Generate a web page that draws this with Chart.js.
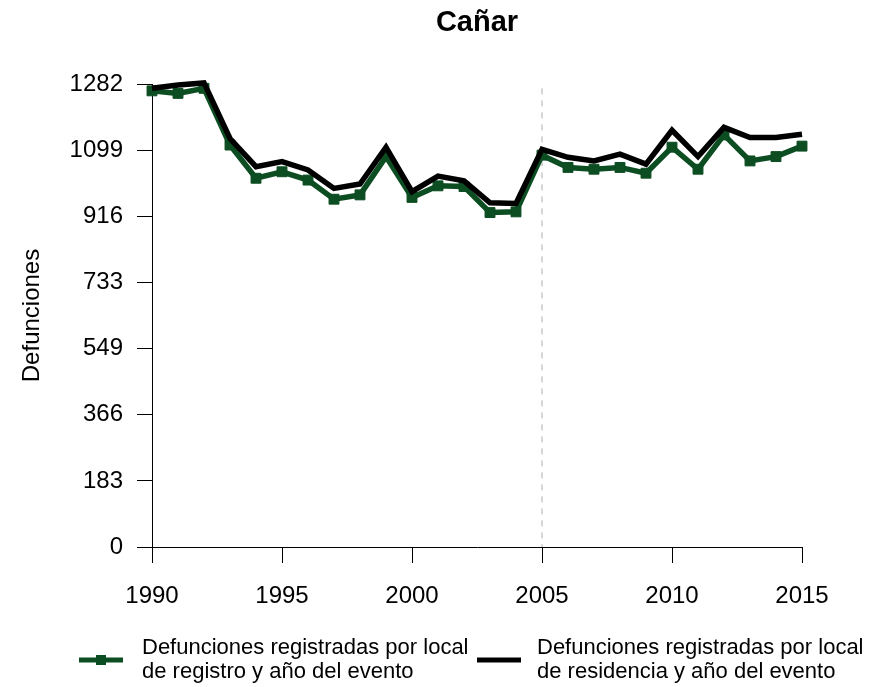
<!DOCTYPE html>
<html>
<head>
<meta charset="utf-8">
<script src="https://cdn.jsdelivr.net/npm/chart.js@4/dist/chart.umd.min.js"></script>
<style>
    html, body { margin: 0; padding: 0; background: #ffffff; }
    #wrap { width: 881px; height: 687px; }
</style>
</head>
<body>
<div id="wrap"><canvas id="chart" width="881" height="687"></canvas></div>
<script>
const years = [1990, 1991, 1992, 1993, 1994, 1995, 1996, 1997, 1998, 1999, 2000, 2001, 2002,
    2003, 2004, 2005, 2006, 2007, 2008, 2009, 2010, 2011, 2012, 2013, 2014, 2015];

// registro
const registroValues = [1263, 1256, 1270, 1113, 1021, 1039, 1016, 963, 975, 1081, 968, 1000, 998,
    926, 928, 1085, 1051, 1046, 1051, 1035, 1107, 1046, 1141, 1069, 1081, 1110];

// residencia
const residenciaValues = [1270, 1279, 1285, 1131, 1053, 1067, 1044, 993, 1005, 1107, 984, 1027, 1014,
    953, 951, 1101, 1079, 1069, 1088, 1060, 1154, 1081, 1162, 1134, 1134, 1143];

const yTicks = [0, 183, 366, 549, 733, 916, 1099, 1282];
const xTicks = [1990, 1995, 2000, 2005, 2010, 2015];
const markerYear = 2005;

const legendLabels = [
    ["Defunciones registradas por local", "de registro y año del evento"],
    ["Defunciones registradas por local", "de residencia y año del evento"]
];

const green = "#0c4d22";
const fontFamily = "'Liberation Sans', Arial, sans-serif";

const dashedLine = {
    id: "dashedLine",
    beforeDatasetsDraw(chart) {
        const ctx = chart.ctx;
        const x = chart.scales.x.getPixelForValue(markerYear);
        const top = chart.scales.y.getPixelForValue(1270);
        const bottom = chart.chartArea.bottom;
        ctx.save();
        ctx.strokeStyle = "#d6d6d6";
        ctx.lineWidth = 2;
        ctx.setLineDash([6, 6]);
        ctx.beginPath();
        ctx.moveTo(x, top);
        ctx.lineTo(x, bottom);
        ctx.stroke();
        ctx.restore();
    }
};

const bottomLegend = {
    id: "bottomLegend",
    afterDraw(chart) {
        const ctx = chart.ctx;
        const items = [
            { x: 79, textX: 142 },
            { x: 477, textX: 537 }
        ];
        ctx.save();
        ctx.font = "22px " + fontFamily;
        ctx.textBaseline = "middle";
        ctx.textAlign = "left";
        chart.data.datasets.forEach((ds, i) => {
            const it = items[i];
            const y = 660;
            ctx.strokeStyle = ds.borderColor;
            ctx.lineWidth = 5;
            ctx.setLineDash([]);
            ctx.beginPath();
            ctx.moveTo(it.x, y);
            ctx.lineTo(it.x + 44, y);
            ctx.stroke();
            if (ds.pointRadius > 0) {
                ctx.fillStyle = ds.pointBackgroundColor;
                ctx.fillRect(it.x + 17, y - 5, 10, 10);
            }
            ctx.fillStyle = "#000000";
            legendLabels[i].forEach((line, j) => {
                ctx.fillText(line, it.textX, 648 + j * 24);
            });
        });
        ctx.restore();
    }
};

new Chart(document.getElementById("chart"), {
    type: "line",
    data: {
        labels: years,
        datasets: [
            {
                label: legendLabels[0].join(" "),
                data: registroValues.map((v, i) => ({ x: years[i], y: v })),
                borderColor: green,
                backgroundColor: green,
                pointBackgroundColor: green,
                pointBorderColor: green,
                pointStyle: "rect",
                pointRadius: 7,
                pointBorderWidth: 1,
                borderWidth: 5.5,
                tension: 0,
                clip: false,
                order: 2
            },
            {
                label: legendLabels[1].join(" "),
                data: residenciaValues.map((v, i) => ({ x: years[i], y: v })),
                borderColor: "#000000",
                backgroundColor: "#000000",
                pointRadius: 0,
                borderWidth: 5.5,
                tension: 0,
                clip: false,
                order: 1
            }
        ]
    },
    options: {
        responsive: false,
        animation: false,
        layout: { padding: { left: 0, right: 79, top: 0, bottom: 0 } },
        plugins: {
            legend: { display: false },
            tooltip: { enabled: false },
            title: {
                display: true,
                fullSize: false,
                text: "Cañar",
                color: "#000000",
                font: { family: fontFamily, size: 29, weight: "bold" },
                padding: { top: 6, bottom: 43.2 }
            }
        },
        scales: {
            x: {
                type: "linear",
                min: 1990,
                max: 2015,
                afterBuildTicks: (scale) => { scale.ticks = xTicks.map((v) => ({ value: v })); },
                afterFit: (scale) => { scale.height = 140; },
                grid: { drawOnChartArea: false, tickLength: 16, tickColor: "#000000", lineWidth: 1 },
                border: { display: true, color: "#000000", width: 1 },
                ticks: {
                    color: "#000000",
                    padding: 19,
                    maxRotation: 0,
                    callback: (v) => String(v),
                    font: { family: fontFamily, size: 24 }
                }
            },
            y: {
                min: 0,
                max: 1282,
                afterBuildTicks: (scale) => { scale.ticks = yTicks.map((v) => ({ value: v })); },
                afterFit: (scale) => { scale.width = 152; },
                grid: { drawOnChartArea: false, tickLength: 15, tickColor: "#000000", lineWidth: 1 },
                border: { display: true, color: "#000000", width: 1 },
                ticks: {
                    color: "#000000",
                    padding: 14,
                    callback: (v) => String(v),
                    font: { family: fontFamily, size: 24 }
                },
                title: {
                    display: true,
                    text: "Defunciones",
                    color: "#000000",
                    font: { family: fontFamily, size: 24 },
                    padding: { top: 18, bottom: 0 }
                }
            }
        }
    },
    plugins: [dashedLine, bottomLegend]
});
</script>
</body>
</html>
